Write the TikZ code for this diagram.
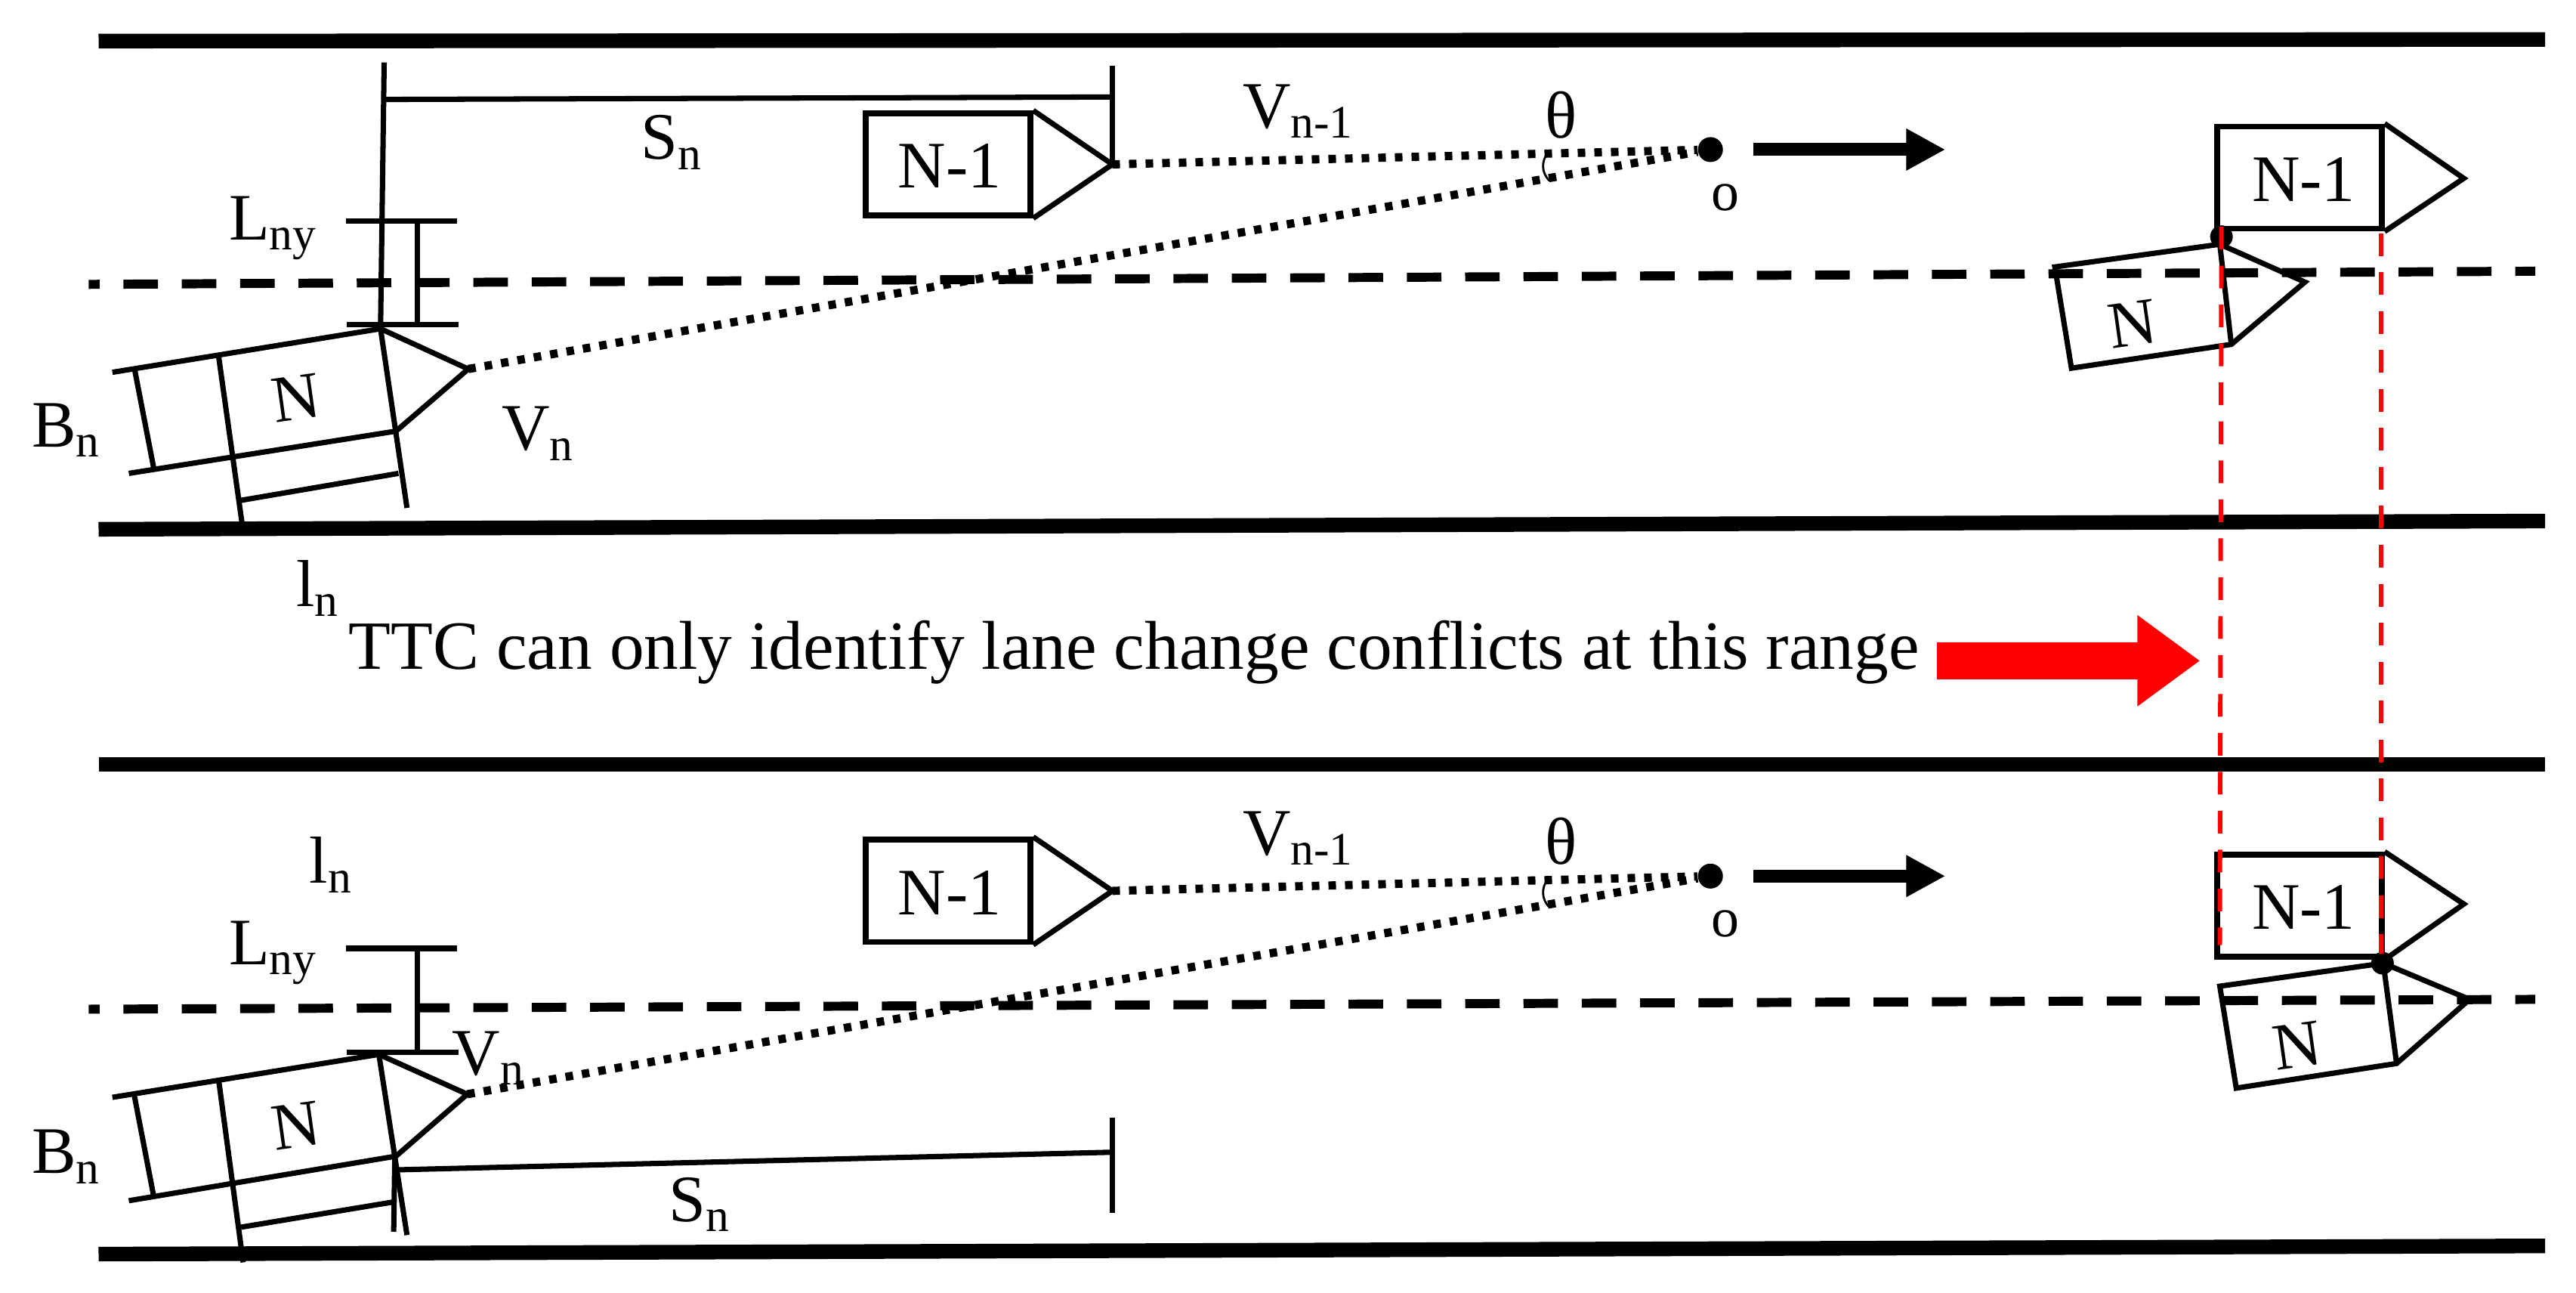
\documentclass[tikz,border=0pt]{standalone}
\usepackage{fontspec}
\setmainfont{Liberation Serif}
\usetikzlibrary{arrows.meta}

\tikzset{
  road/.style={line width=5.5pt},
  lane/.style={line width=3.4pt, dash pattern=on .457cm off .315cm, dash phase=.313cm},
  sight/.style={line width=3.1pt, dash pattern=on .1cm off .12cm},
  dimline/.style={line width=2pt},
  guide/.style={red, line width=1.7pt, dash pattern=on .3cm off .215cm},
  carbox/.style={draw, line width=2.2pt, minimum width=2.175cm, minimum height=1.35cm, inner sep=0pt},
  txt/.style={anchor=base west, inner sep=0pt, font=\fontsize{25}{28}\selectfont},
  carname/.style={inner sep=0pt, font=\fontsize{25}{28}\selectfont},
  ptname/.style={inner sep=0pt, font=\fontsize{21}{24}\selectfont},
  move/.style={line width=4.8pt, -{Triangle[length=.52cm, width=.52cm]}},
  warn/.style={red, line width=14pt, -{Triangle[length=.83cm, width=1.15cm]}}
}

\begin{document}
\begin{tikzpicture}[x=0.02175cm, y=-0.02175cm]
  \useasboundingbox (0,0) rectangle (1567.8,786.2);

  % road edges
  \coordinate (roadAl) at (60,25);    \coordinate (roadAr) at (1549,24);
  \coordinate (roadBl) at (60,322);   \coordinate (roadBr) at (1549,317);
  \coordinate (roadCl) at (60,465);   \coordinate (roadCr) at (1549,465);
  \coordinate (roadDl) at (60,763);   \coordinate (roadDr) at (1549,758);
  \draw[road] (roadAl) -- (roadAr);
  \draw[road] (roadBl) -- (roadBr);
  \draw[road] (roadCl) -- (roadCr);
  \draw[road] (roadDl) -- (roadDr);

  % lane lines
  \coordinate (laneAl) at (54,173);   \coordinate (laneAr) at (1543,165);
  \coordinate (laneBl) at (54,614);   \coordinate (laneBr) at (1543,608);
  \draw[lane] (laneAl) -- (laneAr);
  \draw[lane] (laneBl) -- (laneBr);

  % upper picture, leading car
  \node[carbox] (leadA) at (577,100) {};
  \node[carname] (leadAname) at (578,101) {N-1};
  \coordinate (leadAtip) at (677,100);
  \draw[dimline] (leadA.north east) -- (leadAtip) -- (leadA.south east);

  % upper picture, following car
  \coordinate (carAfr) at (231.6,200);
  \coordinate (carAfl) at (241,262.3);
  \coordinate (carAtip) at (285,224.5);
  \coordinate (carArt) at (133,216.4);
  \coordinate (carArb) at (141,276.7);
  \coordinate (carAbt) at (68.4,226.5);
  \coordinate (carAbb) at (78.4,288);
  \coordinate (carAle) at (147.4,319);
  \coordinate (carAfe) at (247.7,309);
  \draw[dimline] (carAbt) -- (carAfr) -- (carAtip) -- (carAfl) -- (carAbb);
  \draw[dimline] (carAfr) -- (carAfe);
  \draw[dimline] (carArt) -- (carAle);
  \coordinate (widthAa) at (81.6,223);   \coordinate (widthAb) at (93.5,284.5);
  \coordinate (lenAa) at (146.7,304.4);  \coordinate (lenAb) at (242.5,288);
  \draw[dimline] (widthAa) -- (widthAb);
  \draw[dimline] (lenAa) -- (lenAb);
  \node[carname, rotate=8] (carAname) at (180,242) {N};

  % upper picture, gap and offset
  \coordinate (gapAt) at (233.8,38);     \coordinate (gapAm) at (233.8,60.5);
  \coordinate (gapAr) at (677,59);       \coordinate (gapAe) at (677,40);
  \draw[dimline] (gapAt) -- (carAfr);
  \draw[dimline] (gapAm) -- (gapAr);
  \draw[dimline] (gapAe) -- (leadAtip);
  \coordinate (offAtl) at (210.6,134.7); \coordinate (offAtr) at (278.3,134.7);
  \coordinate (offAbl) at (211,197.5);   \coordinate (offAbr) at (279.3,197.5);
  \coordinate (offAt) at (254,134.7);    \coordinate (offAb) at (254,197.5);
  \draw[dimline] (offAtl) -- (offAtr);
  \draw[dimline] (offAbl) -- (offAbr);
  \draw[dimline] (offAt) -- (offAb);

  % upper picture, meeting point
  \node[circle, fill, inner sep=0pt, minimum size=.33cm] (meetA) at (1041,91) {};
  \draw[sight] (leadAtip) -- (meetA);
  \draw[sight] (carAtip) -- (meetA);
  \coordinate (angAa) at (942,93);       \coordinate (angAb) at (943,110);
  \draw[line width=.8pt] (angAa) .. controls (938,98) and (938,105) .. (angAb);
  \coordinate (moveAa) at (1067,91);     \coordinate (moveAb) at (1184,91);
  \draw[move] (moveAa) -- (moveAb);

  % upper picture, labels
  \node[txt] (gapAlab) at (390,97) {S\textsubscript{n}};
  \node[txt] (offAlab) at (139,146) {L\textsubscript{ny}};
  \node[txt] (widAlab) at (19,272) {B\textsubscript{n}};
  \node[txt] (spdAlab) at (305,274) {V\textsubscript{n}};
  \node[txt] (lenAlab) at (180,369) {l\textsubscript{n}};
  \node[txt] (spdBlab) at (756,78) {V\textsubscript{n-1}};
  \node[carname] (angAlab) at (950,70) {θ};
  \node[ptname] (ptAlab) at (1050,120) {o};

  % upper picture, right side
  \node[carbox] (leadC) at (1399.5,108) {};
  \node[carname] (leadCname) at (1402,109) {N-1};
  \coordinate (leadCtip) at (1499.5,108.5);
  \draw[dimline] (leadC.north east) -- (leadCtip) -- (leadC.south east);
  \coordinate (carCa) at (1351,148.6);   \coordinate (carCb) at (1250.6,162.4);
  \coordinate (carCc) at (1260.7,224);   \coordinate (carCd) at (1358,209.5);
  \coordinate (carCtip) at (1402.8,171.6);
  \draw[dimline] (carCa) -- (carCb) -- (carCc) -- (carCd) -- (carCtip) -- cycle;
  \draw[dimline] (carCa) -- (carCd);
  \node[carname, rotate=8] (carCname) at (1298,197) {N};
  \node[circle, fill, inner sep=0pt, minimum size=.3cm] (hitC) at (1352,144) {};

  % lower picture, leading car
  \node[carbox] (leadB) at (577,542) {};
  \node[carname] (leadBname) at (578,543) {N-1};
  \coordinate (leadBtip) at (677,542);
  \draw[dimline] (leadB.north east) -- (leadBtip) -- (leadB.south east);

  % lower picture, following car
  \coordinate (carBfr) at (230.6,641.5);
  \coordinate (carBfl) at (241,703.4);
  \coordinate (carBtip) at (284.4,665.7);
  \coordinate (carBrt) at (133.2,658);
  \coordinate (carBrb) at (141,719.3);
  \coordinate (carBbt) at (68.4,667.6);
  \coordinate (carBbb) at (78.4,730.5);
  \coordinate (carBle) at (148,768);
  \coordinate (carBfe) at (247.7,751.4);
  \draw[dimline] (carBbt) -- (carBfr) -- (carBtip) -- (carBfl) -- (carBbb);
  \draw[dimline] (carBfr) -- (carBfe);
  \draw[dimline] (carBrt) -- (carBle);
  \coordinate (widthBa) at (81.6,665.7); \coordinate (widthBb) at (93.5,727.6);
  \coordinate (lenBa) at (146.7,746.6);  \coordinate (lenBb) at (241,731);
  \draw[dimline] (widthBa) -- (widthBb);
  \draw[dimline] (lenBa) -- (lenBb);
  \node[carname, rotate=8] (carBname) at (180,685) {N};

  % lower picture, gap and offset
  \coordinate (gapBa) at (240.3,703.4);  \coordinate (gapBb) at (239.6,749.4);
  \coordinate (gapBm) at (241.9,711.7);  \coordinate (gapBr) at (677,701);
  \coordinate (gapBt) at (677,680);      \coordinate (gapBe) at (677,738);
  \draw[dimline] (gapBa) -- (gapBb);
  \draw[dimline] (gapBm) -- (gapBr);
  \draw[dimline] (gapBt) -- (gapBe);
  \coordinate (offBtl) at (210.6,577);   \coordinate (offBtr) at (278,577);
  \coordinate (offBbl) at (211,640);     \coordinate (offBbr) at (279,640);
  \coordinate (offBt) at (254,577);      \coordinate (offBb) at (254,640);
  \draw[dimline] (offBtl) -- (offBtr);
  \draw[dimline] (offBbl) -- (offBbr);
  \draw[dimline] (offBt) -- (offBb);

  % lower picture, meeting point
  \node[circle, fill, inner sep=0pt, minimum size=.33cm] (meetB) at (1041,533) {};
  \draw[sight] (leadBtip) -- (meetB);
  \draw[sight] (carBtip) -- (meetB);
  \coordinate (angBa) at (942,535);      \coordinate (angBb) at (943,552);
  \draw[line width=.8pt] (angBa) .. controls (938,540) and (938,547) .. (angBb);
  \coordinate (moveBa) at (1067,533);    \coordinate (moveBb) at (1184,533);
  \draw[move] (moveBa) -- (moveBb);

  % lower picture, labels
  \node[txt] (gapBlab) at (407,743) {S\textsubscript{n}};
  \node[txt] (offBlab) at (139,587) {L\textsubscript{ny}};
  \node[txt] (widBlab) at (19,714) {B\textsubscript{n}};
  \node[txt] (spdClab) at (275,654) {V\textsubscript{n}};
  \node[txt] (lenBlab) at (188,537) {l\textsubscript{n}};
  \node[txt] (spdDlab) at (756,520) {V\textsubscript{n-1}};
  \node[carname] (angBlab) at (950,512) {θ};
  \node[ptname] (ptBlab) at (1050,562) {o};

  % lower picture, right side
  \node[carbox] (leadD) at (1399.5,551) {};
  \node[carname] (leadDname) at (1402,552) {N-1};
  \coordinate (leadDtip) at (1499.5,550);
  \draw[dimline] (leadD.north east) -- (leadDtip) -- (leadD.south east);
  \coordinate (carDa) at (1450.5,586);   \coordinate (carDb) at (1351,600);
  \coordinate (carDc) at (1361,662);     \coordinate (carDd) at (1458.6,647);
  \coordinate (carDtip) at (1503,608);
  \draw[dimline] (carDa) -- (carDb) -- (carDc) -- (carDd) -- (carDtip) -- cycle;
  \draw[dimline] (carDa) -- (carDd);
  \node[carname, rotate=8] (carDname) at (1398,636) {N};
  \node[circle, fill, inner sep=0pt, minimum size=.3cm] (hitD) at (1450,586) {};

  % range guides and note
  \coordinate (guideAa) at (1352,138);   \coordinate (guideAb) at (1351,575);
  \coordinate (guideBa) at (1449,142);   \coordinate (guideBb) at (1449,580);
  \draw[guide] (guideAa) -- (guideAb);
  \draw[guide] (guideBa) -- (guideBb);
  \node[txt, font=\fontsize{26}{29}\selectfont] (note) at (212,407) {TTC can only identify lane change conflicts at this range};
  \coordinate (warnA) at (1179,402);     \coordinate (warnB) at (1339,402);
  \draw[warn] (warnA) -- (warnB);

\end{tikzpicture}
\end{document}
